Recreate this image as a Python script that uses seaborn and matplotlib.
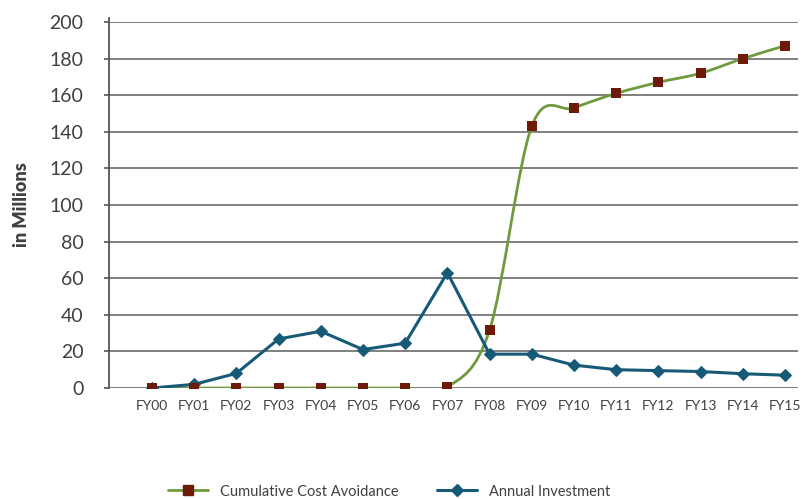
import numpy as np
import pandas as pd
import seaborn as sns
from matplotlib import pyplot as plt
from matplotlib.path import Path
from matplotlib.patches import PathPatch
from matplotlib.lines import Line2D

years = ['FY00', 'FY01', 'FY02', 'FY03', 'FY04', 'FY05', 'FY06', 'FY07',
         'FY08', 'FY09', 'FY10', 'FY11', 'FY12', 'FY13', 'FY14', 'FY15']
cost_avoidance = [0, 0, 0, 0, 0, 0, 0, 0.5, 31.7, 143, 153, 161, 167, 172, 180, 187]
investment = [0, 2, 8, 26.8, 31, 21, 24.5, 63, 18.5, 18.5, 12.5, 10, 9.5, 9, 7.8, 7]
y_ticks = [0, 20, 40, 60, 80, 100, 120, 140, 160, 180, 200]

GREEN = '#6f9a3e'
BROWN = '#6e1a08'
BLUE = '#175a78'
TEXT = '#404040'

df = pd.DataFrame({'idx': np.arange(len(years)), 'year': years,
                   'cost': cost_avoidance, 'inv': investment})

sns.set_style('white')
plt.rcParams['font.family'] = ['Lato', 'DejaVu Sans']

fig = plt.figure(figsize=(8.02, 4.99), dpi=100)
ax = fig.add_axes([109 / 802, 1 - 388 / 499, (798 - 109) / 802, (388 - 22) / 499])

# grid lines
for v in y_ticks:
    ax.axhline(v, color='#7f7f7f', linewidth=1.4, zorder=0)

# smoothed cumulative line (bezier, excel-style smoothing)
pts = np.column_stack([df['idx'], df['cost']]).astype(float)
verts = [tuple(pts[0])]
codes = [Path.MOVETO]
n = len(pts)
for i in range(n - 1):
    p0 = pts[max(i - 1, 0)]
    p1 = pts[i]
    p2 = pts[i + 1]
    p3 = pts[min(i + 2, n - 1)]
    c1 = p1 + (p2 - p0) / 6
    c2 = p2 - (p3 - p1) / 6
    verts += [tuple(c1), tuple(c2), tuple(p2)]
    codes += [Path.CURVE4] * 3
ax.add_patch(PathPatch(Path(verts, codes), facecolor='none', edgecolor=GREEN,
                       linewidth=2.0, zorder=2))

sns.scatterplot(data=df, x='idx', y='cost', marker='s', s=48, color=BROWN,
                edgecolor=BROWN, linewidth=0, ax=ax, zorder=4, legend=False)
sns.lineplot(data=df, x='idx', y='inv', marker='D', markersize=6.5, color=BLUE,
             markeredgecolor=BLUE, linewidth=2.2, ax=ax, zorder=3, legend=False)

ax.set_xlim(-1.02, 15.31)
ax.set_ylim(0, 200)
ax.set_yticks(y_ticks)
ax.set_yticklabels([str(v) for v in y_ticks], fontsize=14, color=TEXT)
ax.set_xticks(df['idx'])
ax.set_xticklabels(years, fontsize=10, color=TEXT)
ax.tick_params(axis='x', length=0, pad=9)
ax.tick_params(axis='y', length=3.5, width=1.2, color='#555555', left=True, pad=15)
ax.set_xlabel('')
ax.set_ylabel('in Millions', fontsize=13, fontweight='heavy', color=TEXT, labelpad=14)

for s in ['top', 'right', 'bottom']:
    ax.spines[s].set_visible(False)
ax.spines['left'].set_color('#555555')
ax.spines['left'].set_linewidth(1.3)
ax.spines['left'].set_bounds(0, 202)

handles = [
    Line2D([], [], color=GREEN, linewidth=2.0, marker='s', markersize=6.5,
           markerfacecolor=BROWN, markeredgecolor=BROWN),
    Line2D([], [], color=BLUE, linewidth=2.2, marker='D', markersize=6,
           markerfacecolor=BLUE, markeredgecolor=BLUE),
]
fig.legend(handles, ['Cumulative Cost Avoidance', 'Annual Investment'],
           loc='center', bbox_to_anchor=(0.485, 0.015), ncol=2, frameon=False,
           fontsize=10.5, handlelength=2.8, columnspacing=2.6, labelcolor=TEXT)

fig.savefig('out.png', dpi=100)
